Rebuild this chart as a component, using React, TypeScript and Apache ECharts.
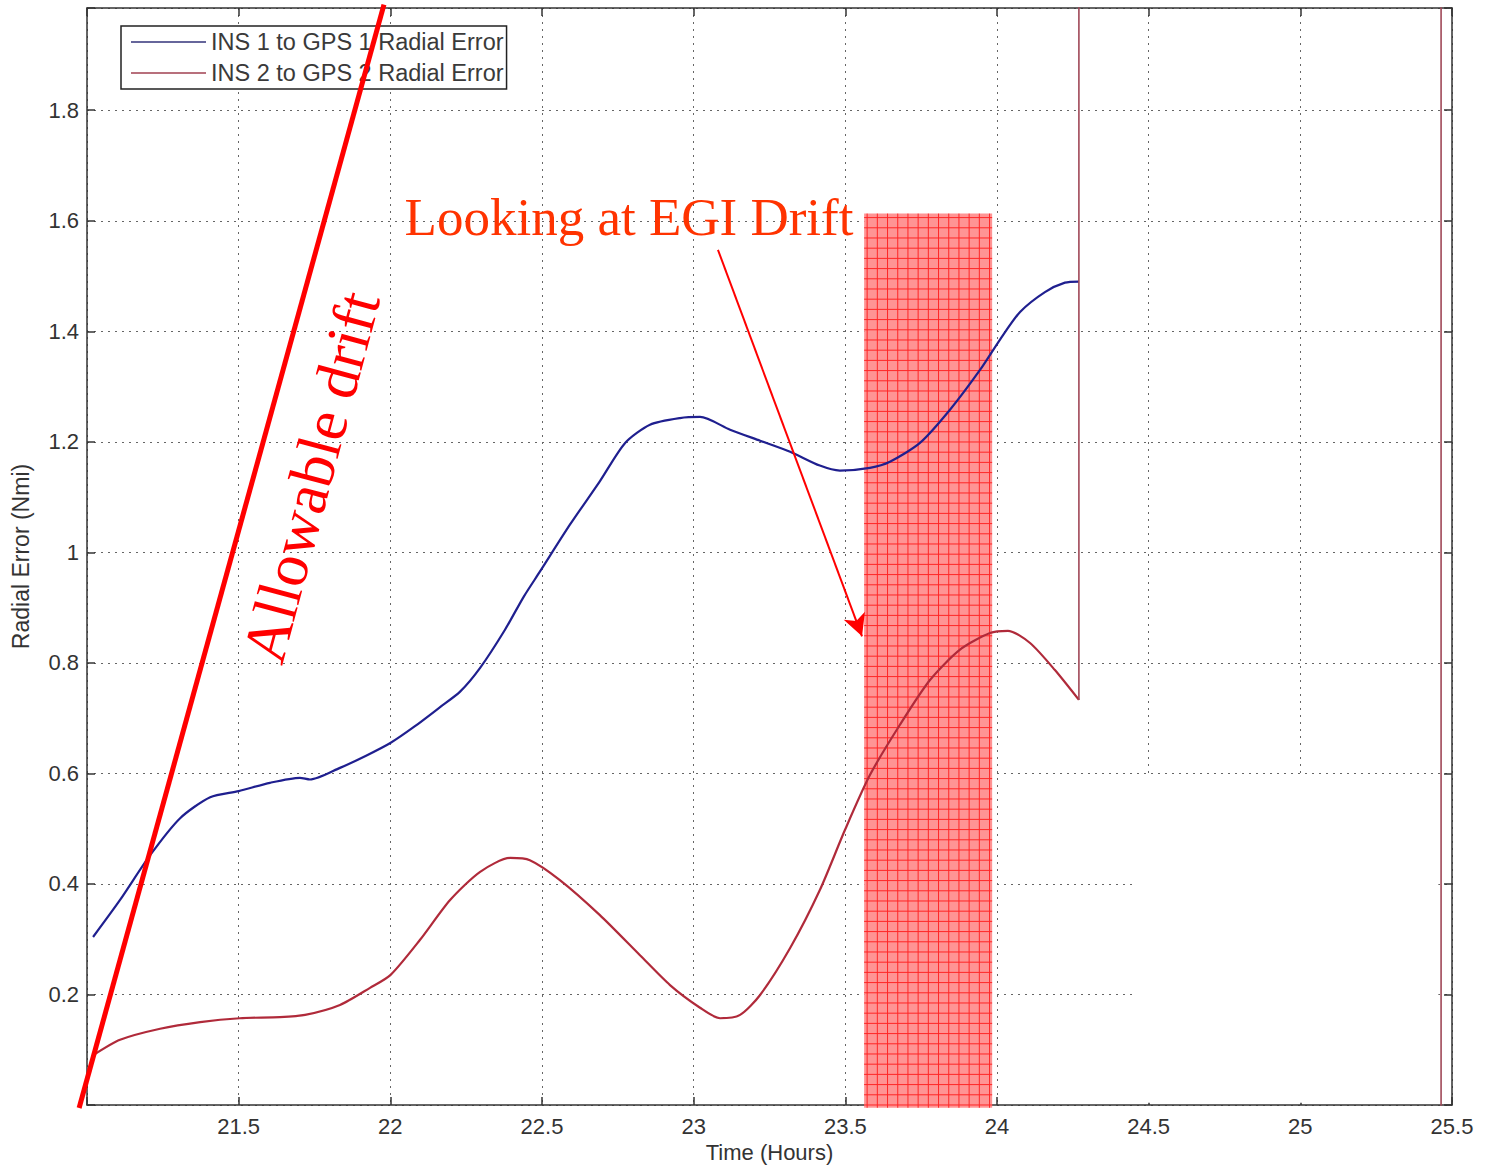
import React, { useEffect, useRef } from "react";
import * as echarts from "echarts";

// INS 1 to GPS 1 radial error (hours, Nmi)
const ins1Time = [21.02, 21.109, 21.208, 21.307, 21.406, 21.5, 21.603, 21.702, 21.735, 21.834, 21.92, 22.0, 22.08, 22.164, 22.23, 22.296, 22.378, 22.44, 22.493, 22.592, 22.69, 22.774, 22.856, 22.955, 23.021, 23.12, 23.219, 23.318, 23.416, 23.482, 23.581, 23.647, 23.746, 23.845, 23.944, 24.01, 24.076, 24.158, 24.224, 24.27];
const ins1Err = [0.304, 0.371, 0.452, 0.519, 0.557, 0.568, 0.583, 0.592, 0.589, 0.61, 0.632, 0.655, 0.685, 0.72, 0.748, 0.791, 0.86, 0.92, 0.965, 1.05, 1.128, 1.198, 1.231, 1.243, 1.245, 1.222, 1.202, 1.182, 1.157, 1.148, 1.153, 1.164, 1.198, 1.258, 1.33, 1.385, 1.435, 1.471, 1.488, 1.49];

// INS 2 to GPS 2 radial error (hours, Nmi)
const ins2Time = [21.02, 21.109, 21.241, 21.373, 21.504, 21.636, 21.719, 21.834, 21.933, 22.0, 22.098, 22.197, 22.296, 22.395, 22.46, 22.559, 22.69, 22.823, 22.922, 23.021, 23.087, 23.153, 23.219, 23.318, 23.416, 23.499, 23.581, 23.68, 23.779, 23.878, 23.977, 24.036, 24.109, 24.191, 24.27];
const ins2Err = [0.09, 0.118, 0.138, 0.15, 0.157, 0.159, 0.163, 0.181, 0.212, 0.235, 0.299, 0.371, 0.422, 0.447, 0.443, 0.407, 0.344, 0.271, 0.217, 0.176, 0.157, 0.163, 0.199, 0.284, 0.389, 0.498, 0.597, 0.688, 0.769, 0.824, 0.854, 0.858, 0.836, 0.787, 0.733];
// INS 2 jumps off-scale after the last sample
const ins2JumpTime = [24.27, 24.27, 25.464, 25.464];
const ins2JumpErr = [0.733, 3, 3, -1];

// Allowable drift line [x0, y0, x1, y1]
const driftLine = [20.974, -0.0054, 21.979, 1.991];

// EGI drift window [x0, x1, y0, y1]
const egiWindow = [23.562, 23.984, -0.005, 1.613];
// Blank patch of the original picture [x0, x1, y0, y1]
const blankPatch = [24.46, 25.455, 0.004, 0.597];

// Annotation arrow
const arrowFrom = [23.08, 1.5475];
const arrowTo = [23.555, 0.848];

const xMin = 21, xMax = 25.5, xStep = 0.5;
const yMin = 0, yMax = 1.985, yStep = 0.2;

const SANS = "'Liberation Sans', Arial, sans-serif";
const SERIF = "'Liberation Serif', 'Times New Roman', serif";
const BLUE = "#1f1f8f";
const RED = "#b02a3a";

export default function App() {
  const ref = useRef<HTMLDivElement>(null);
  useEffect(() => {
    document.body.style.margin = "0";
    const chart = echarts.init(ref.current!, null, { renderer: "svg" });
    const axisLine = { show: true, onZero: false, lineStyle: { color: "#333", width: 1.5 } };
    const tick = { show: true, inside: true, length: 8, lineStyle: { color: "#333", width: 1.5 } };
    const split = { show: true, lineStyle: { color: "#666", width: 1, type: [2, 5] as any } };
    const xFmt = (v: number) => (v <= xMin + 1e-9 ? "" : String(v));
    const yFmt = (v: number) => {
      if (v < 0.1) return "";
      if (Math.abs(v / yStep - Math.round(v / yStep)) > 1e-6) return "";
      return String(Math.round(v * 10) / 10);
    };
    const rectItem = (color: string, grid: boolean) => (params: any, api: any) => {
      const x0 = api.value(0), x1 = api.value(1), y0 = api.value(2), y1 = api.value(3);
      const p0 = api.coord([x0, y1]);
      const p1 = api.coord([x1, y0]);
      const children: any[] = [
        { type: "rect", shape: { x: p0[0], y: p0[1], width: p1[0] - p0[0], height: p1[1] - p0[1] }, style: { fill: color } },
      ];
      if (grid) {
        const step = 10.2;
        for (let x = p0[0] + 3; x < p1[0]; x += step) {
          children.push({ type: "line", shape: { x1: x, y1: p0[1], x2: x, y2: p1[1] }, style: { stroke: "#ff2626", lineWidth: 1 } });
        }
        for (let y = p0[1] + 4; y < p1[1]; y += step) {
          children.push({ type: "line", shape: { x1: p0[0], y1: y, x2: p1[0], y2: y }, style: { stroke: "#ff2626", lineWidth: 1 } });
        }
      }
      return { type: "group", children };
    };
    const lineItem = (params: any, api: any) => {
      const a = api.coord([api.value(0), api.value(1)]);
      const b = api.coord([api.value(2), api.value(3)]);
      return { type: "line", shape: { x1: a[0], y1: a[1], x2: b[0], y2: b[1] }, style: { stroke: "#ff0000", lineWidth: 5 } };
    };
    chart.setOption({
      animation: false,
      backgroundColor: "#fff",
      grid: { left: 87, right: 35, top: 8, bottom: 65 },
      legend: {
        left: 121,
        top: 26,
        orient: "vertical",
        data: [
          { name: "INS 1 to GPS 1 Radial Error", icon: "rect", itemStyle: { color: "#33337a" } },
          { name: "INS 2 to GPS 2 Radial Error", icon: "rect", itemStyle: { color: "#a04050" } },
        ],
        backgroundColor: "#fff",
        borderColor: "#222",
        borderWidth: 1.5,
        borderRadius: 0,
        padding: [4, 3, 4, 10],
        itemWidth: 75,
        itemHeight: 1.5,
        itemGap: 7,
        textStyle: { fontSize: 23.5, color: "#3a3a3a", fontFamily: SANS },
        z: 4,
      },
      xAxis: [
        {
          type: "value", min: xMin, max: xMax, interval: xStep,
          name: "Time (Hours)", nameLocation: "middle", nameGap: 36,
          nameTextStyle: { fontSize: 22, color: "#333", fontFamily: SANS },
          axisLine, axisTick: tick, splitLine: split,
          axisLabel: { fontSize: 22, color: "#333", fontFamily: SANS, margin: 10, formatter: xFmt },
        },
        {
          type: "value", min: xMin, max: xMax, interval: xStep, position: "top",
          axisLine, axisTick: tick, splitLine: { show: false }, axisLabel: { show: false },
        },
      ],
      yAxis: [
        {
          type: "value", min: yMin, max: yMax, interval: yStep,
          name: "Radial Error (Nmi)", nameLocation: "middle", nameGap: 55,
          nameTextStyle: { fontSize: 23, color: "#333", fontFamily: SANS },
          axisLine, axisTick: tick, splitLine: split,
          axisLabel: { fontSize: 22, color: "#333", fontFamily: SANS, margin: 8, formatter: yFmt },
        },
        {
          type: "value", min: yMin, max: yMax, interval: yStep, position: "right",
          axisLine, axisTick: tick, splitLine: { show: false }, axisLabel: { show: false },
        },
      ],
      series: [
        {
          type: "custom", name: "blank", silent: true, clip: false, z: 1,
          renderItem: rectItem("#ffffff", false),
          data: [blankPatch],
        },
        {
          type: "custom", name: "EGI window", silent: true, clip: false, z: 1,
          renderItem: rectItem("#ff9494", true),
          data: [egiWindow],
        },
        {
          type: "line", name: "INS 1 to GPS 1 Radial Error", showSymbol: false, symbol: "none", z: 3, smooth: 0.25,
          lineStyle: { color: BLUE, width: 2.2 }, itemStyle: { color: BLUE },
          data: ins1Time.map((t, i) => [t, ins1Err[i]]),
          markLine: {
            silent: true, symbol: ["none", "arrow"], symbolSize: [17, 22], animation: false,
            lineStyle: { color: "#ff0000", width: 2, type: "solid" },
            label: { show: false },
            data: [[{ coord: arrowFrom }, { coord: arrowTo }]],
          },
        },
        {
          type: "line", name: "INS 2 to GPS 2 Radial Error", showSymbol: false, symbol: "none", z: 3, smooth: 0.25,
          lineStyle: { color: RED, width: 2.2 }, itemStyle: { color: RED },
          data: ins2Time.map((t, i) => [t, ins2Err[i]]),
        },
        {
          type: "line", name: "INS 2 to GPS 2 Radial Error", showSymbol: false, symbol: "none", z: 3,
          lineStyle: { color: "#a04858", width: 1.6 }, itemStyle: { color: RED },
          data: ins2JumpTime.map((t, i) => [t, ins2JumpErr[i]]),
        },
        {
          type: "custom", name: "Allowable drift", silent: true, clip: false, z: 10,
          renderItem: lineItem,
          data: [driftLine],
        },
      ],
      graphic: [
        {
          type: "text", x: 311, y: 477, rotation: (75 * Math.PI) / 180, z: 20,
          style: { text: "Allowable drift", fill: "#ff0000", fontSize: 62, fontFamily: SERIF, align: "center", verticalAlign: "middle" },
        },
        {
          type: "text", x: 629, y: 217, z: 20,
          style: { text: "Looking at EGI Drift", fill: "#ff3300", fontSize: 53, fontFamily: SERIF, align: "center", verticalAlign: "middle" },
        },
      ],
    });
    return () => chart.dispose();
  }, []);
  return <div ref={ref} style={{ width: 1487, height: 1170 }} />;
}
